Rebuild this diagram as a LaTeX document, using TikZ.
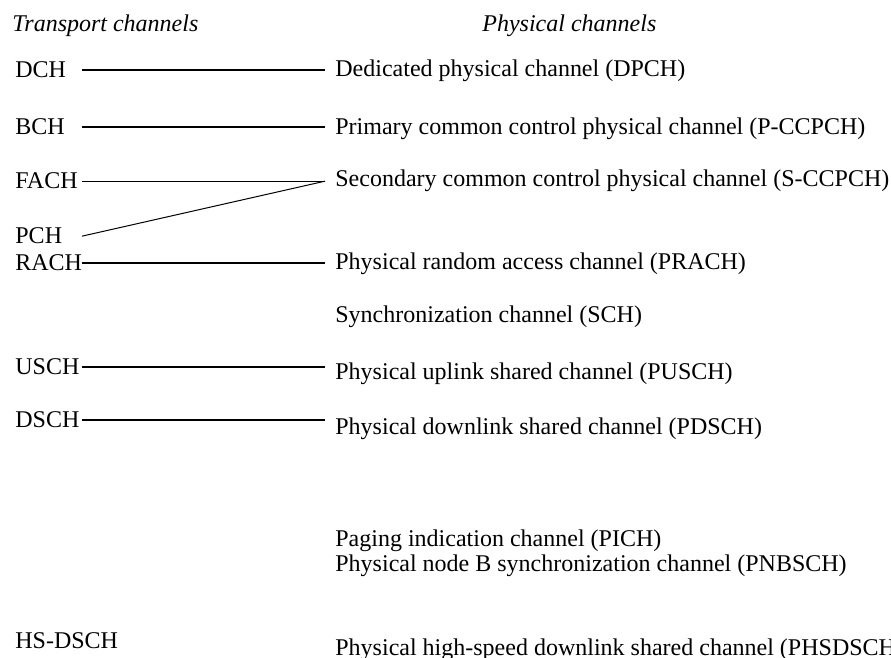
\documentclass[tikz,border=0pt]{standalone}
\usepackage{fontspec}
\setmainfont{Liberation Serif}

\begin{document}
\begin{tikzpicture}[x=0.5pt, y=-0.5pt]
    % Define styles
    \tikzstyle{chname} = [anchor=base west, inner sep=0pt, font=\fontsize{12pt}{14pt}\selectfont]
    \tikzstyle{heading} = [chname, font=\fontsize{12pt}{14pt}\selectfont\itshape]
    \tikzstyle{link} = [line width=1pt]
    \tikzstyle{thinlink} = [line width=0.5pt]

    \useasboundingbox (0,0) rectangle (891,658);

    % Headings
    \node (trtitle) [heading] at (12,32) {Transport channels};
    \node (phtitle) [heading] at (482,32) {Physical channels};

    % Transport channels
    \node (dch) [chname] at (15,78) {DCH};
    \node (bch) [chname] at (15,135) {BCH};
    \node (fach) [chname] at (15,189) {FACH};
    \node (pch) [chname] at (15,244) {PCH};
    \node (rach) [chname] at (15,271) {RACH};
    \node (usch) [chname] at (15,375) {USCH};
    \node (dsch) [chname] at (15,428) {DSCH};
    \node (hsdsch) [chname] at (15,648) {HS-DSCH};

    % Physical channels
    \node (dpch) [chname] at (335,77) {Dedicated physical channel (DPCH)};
    \node (pccpch) [chname] at (335,135) {Primary common control physical channel (P-CCPCH)};
    \node (sccpch) [chname] at (335,187) {Secondary common control physical channel (S-CCPCH)};
    \node (prach) [chname] at (335,270) {Physical random access channel (PRACH)};
    \node (sch) [chname] at (335,323) {Synchronization channel (SCH)};
    \node (pusch) [chname] at (335,380) {Physical uplink shared channel (PUSCH)};
    \node (pdsch) [chname] at (335,435) {Physical downlink shared channel (PDSCH)};
    \node (pich) [chname] at (335,546) {Paging indication channel (PICH)};
    \node (pnbsch) [chname] at (335,572) {Physical node B synchronization channel (PNBSCH)};
    \node (phsdsch) [chname] at (335,655) {Physical high-speed downlink shared channel (PHSDSCH)};

    % Mapping lines
    \coordinate (lx) at (82,0);
    \coordinate (sjoin) at ([xshift=-5pt]sccpch.west |- fach);
    \draw [link] (dch -| lx) -- ([xshift=-5pt]dpch.west |- dch);
    \draw [link] (bch -| lx) -- ([xshift=-5pt]pccpch.west |- bch);
    \draw [thinlink] (fach -| lx) -- (sjoin);
    \draw [thinlink] (pch -| lx) -- (sjoin);
    \draw [link] (rach -| lx) -- ([xshift=-5pt]prach.west |- rach);
    \draw [link] (usch -| lx) -- ([xshift=-5pt]pusch.west |- usch);
    \draw [link] (dsch -| lx) -- ([xshift=-5pt]pdsch.west |- dsch);
\end{tikzpicture}
\end{document}
